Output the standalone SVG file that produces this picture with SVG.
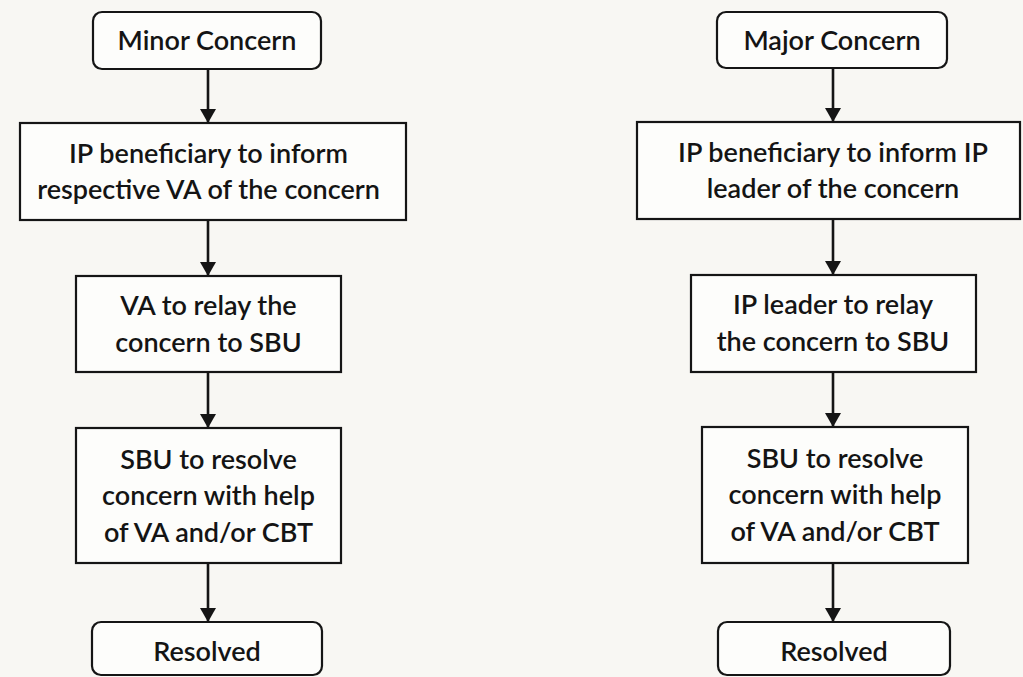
<svg xmlns="http://www.w3.org/2000/svg" width="1023" height="677" viewBox="0 0 1023 677">
  <defs>
    <style>
      .box { fill: #fdfdfb; stroke: #151515; stroke-width: 2.2; }
      .lbl { font-family: "Lato", "Open Sans", "Liberation Sans", sans-serif; font-size: 27px; font-weight: 600; fill: #141414; text-anchor: middle; }
      .conn { stroke: #151515; stroke-width: 2.6; fill: none; }
    </style>
    <marker id="arr" markerUnits="userSpaceOnUse" markerWidth="16" markerHeight="16" refX="14" refY="8" orient="auto">
      <path d="M0,0 L14,8 L0,16 Z" fill="#151515"/>
    </marker>
  </defs>
  <rect width="1023" height="677" fill="#f8f7f3"/>

  <g id="connectors">
    <line class="conn" x1="208" y1="69" x2="208" y2="123" marker-end="url(#arr)"/>
    <line class="conn" x1="208" y1="220" x2="208" y2="276" marker-end="url(#arr)"/>
    <line class="conn" x1="208" y1="372" x2="208" y2="428" marker-end="url(#arr)"/>
    <line class="conn" x1="208" y1="563" x2="208" y2="622" marker-end="url(#arr)"/>
    <line class="conn" x1="833" y1="68" x2="833" y2="122" marker-end="url(#arr)"/>
    <line class="conn" x1="833" y1="219" x2="833" y2="275" marker-end="url(#arr)"/>
    <line class="conn" x1="833" y1="372" x2="833" y2="427" marker-end="url(#arr)"/>
    <line class="conn" x1="833" y1="563" x2="833" y2="622" marker-end="url(#arr)"/>
  </g>

  <g id="minor-concern">
    <rect class="box" x="93" y="12" width="228" height="57" rx="9"/>
    <text class="lbl" x="207" y="50">Minor Concern</text>
  </g>
  <g id="left-inform">
    <rect class="box" x="20" y="123" width="386" height="97"/>
    <text class="lbl" x="208.5" y="163">IP beneficiary to inform</text>
    <text class="lbl" x="208.5" y="199">respective VA of the concern</text>
  </g>
  <g id="left-relay">
    <rect class="box" x="76" y="276" width="265" height="96"/>
    <text class="lbl" x="208.5" y="315">VA to relay the</text>
    <text class="lbl" x="208.5" y="352">concern to SBU</text>
  </g>
  <g id="left-resolve">
    <rect class="box" x="76" y="428" width="265" height="135"/>
    <text class="lbl" x="208.5" y="469">SBU to resolve</text>
    <text class="lbl" x="208.5" y="505">concern with help</text>
    <text class="lbl" x="208.5" y="542">of VA and/or CBT</text>
  </g>
  <g id="left-resolved">
    <rect class="box" x="92" y="622" width="230" height="53" rx="9"/>
    <text class="lbl" x="207" y="661">Resolved</text>
  </g>

  <g id="major-concern">
    <rect class="box" x="717" y="12" width="230" height="56" rx="9"/>
    <text class="lbl" x="832" y="50">Major Concern</text>
  </g>
  <g id="right-inform">
    <rect class="box" x="637" y="122" width="383" height="97"/>
    <text class="lbl" x="833" y="162">IP beneficiary to inform IP</text>
    <text class="lbl" x="833" y="198">leader of the concern</text>
  </g>
  <g id="right-relay">
    <rect class="box" x="691" y="275" width="285" height="97"/>
    <text class="lbl" x="833" y="314">IP leader to relay</text>
    <text class="lbl" x="833" y="351">the concern to SBU</text>
  </g>
  <g id="right-resolve">
    <rect class="box" x="702" y="427" width="266" height="136"/>
    <text class="lbl" x="835" y="468">SBU to resolve</text>
    <text class="lbl" x="835" y="504">concern with help</text>
    <text class="lbl" x="835" y="541">of VA and/or CBT</text>
  </g>
  <g id="right-resolved">
    <rect class="box" x="718" y="622" width="232" height="53" rx="9"/>
    <text class="lbl" x="834" y="661">Resolved</text>
  </g>
</svg>
